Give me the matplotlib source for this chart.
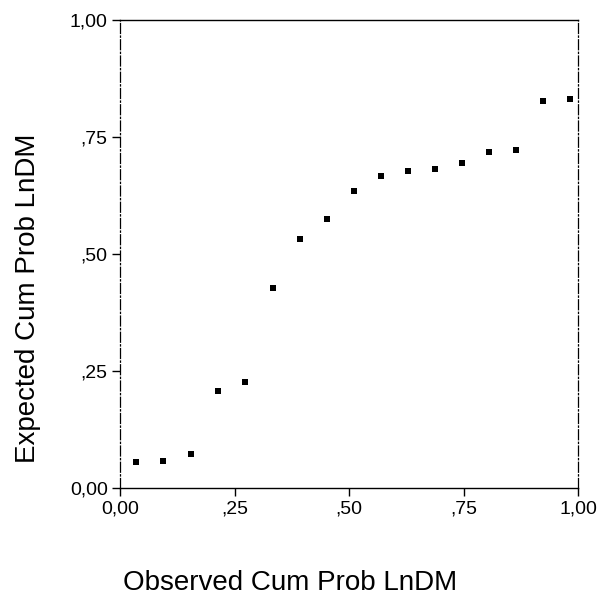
import numpy as np
import matplotlib
matplotlib.use('Agg')
import matplotlib.pyplot as plt

plt.rcParams['font.family'] = ['Liberation Sans', 'DejaVu Sans']

# observed vs expected cumulative probabilities
observed = [0.035, 0.094, 0.155, 0.214, 0.273, 0.334, 0.393, 0.452, 0.511,
            0.570, 0.629, 0.688, 0.747, 0.806, 0.865, 0.924, 0.983]
expected = [0.056, 0.058, 0.073, 0.207, 0.226, 0.427, 0.532, 0.575, 0.635,
            0.667, 0.677, 0.682, 0.694, 0.718, 0.722, 0.827, 0.831]
tick_vals = [0.0, 0.25, 0.5, 0.75, 1.0]
tick_labels = ['0,00', ',25', ',50', ',75', '1,00']

fig = plt.figure(figsize=(6.04, 6.03), dpi=100)
ax = fig.add_axes([0.199, 0.191, 0.758, 0.776])

ax.plot(observed, expected, 's', color='black', markersize=4.2, markeredgewidth=0)

ax.set_xlim(0, 1)
ax.set_ylim(0, 1)
ax.set_xticks(tick_vals)
ax.set_xticklabels(tick_labels)
ax.set_yticks(tick_vals)
ax.set_yticklabels(tick_labels)
ax.tick_params(direction='out', length=6, width=1, labelsize=14, pad=3)

for side in ['top', 'bottom']:
    ax.spines[side].set_linewidth(1)
for side in ['left', 'right']:
    ax.spines[side].set_linewidth(0.9)
    ax.spines[side].set_linestyle((0, (8, 2, 1, 2)))

fig.text(0.047, 0.506, 'Expected Cum Prob LnDM', rotation=90, fontsize=20,
         ha='center', va='center')
fig.text(0.48, 0.033, 'Observed Cum Prob LnDM', fontsize=20,
         ha='center', va='center')

fig.savefig('out.png', dpi=100)
